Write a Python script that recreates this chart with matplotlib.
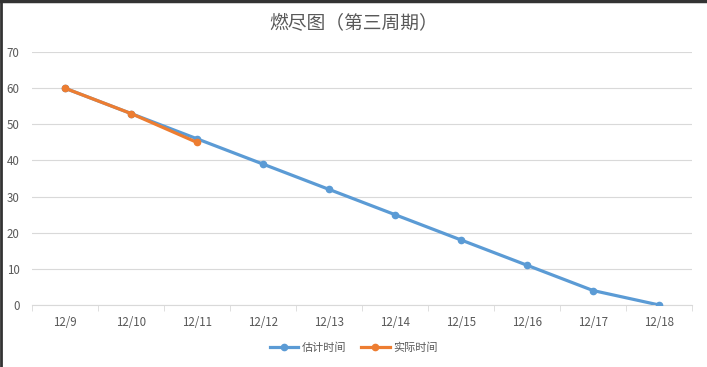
import matplotlib.pyplot as plt
from matplotlib.lines import Line2D

plt.rcParams['font.family'] = ['Noto Sans CJK SC', 'DejaVu Sans']

# data
dates = ['12/9', '12/10', '12/11', '12/12', '12/13', '12/14', '12/15', '12/16', '12/17', '12/18']
estimate = [60, 53, 46, 39, 32, 25, 18, 11, 4, 0]
actual = [60, 53, 45]
yticks = [0, 10, 20, 30, 40, 50, 60, 70]

blue = '#5B9BD5'
orange = '#ED7D31'
gray = '#595959'
grid = '#D9D9D9'

fig = plt.figure(figsize=(7.07, 3.67), dpi=100)
ax = fig.add_axes([0.0453, 0.169, 0.9335, 0.689])

x = list(range(len(dates)))
ax.plot(x, estimate, color=blue, lw=2.3, marker='o', ms=4.5, label='估计时间', zorder=3)
ax.plot(x[:len(actual)], actual, color=orange, lw=2.3, marker='o', ms=4.5, label='实际时间', zorder=4)

ax.set_xlim(-0.5, len(dates) - 0.5)
ax.set_ylim(0, 70)
ax.set_yticks(yticks)
ax.set_xticks(x)
ax.set_xticklabels(dates)
ax.set_xticks([i - 0.5 for i in range(len(dates) + 1)], minor=True)
ax.tick_params(axis='x', which='major', length=0, pad=8, labelsize=8.3, labelcolor=gray)
ax.tick_params(axis='x', which='minor', length=4, color=grid, direction='out')
ax.tick_params(axis='y', length=0, pad=9, labelsize=8.3, labelcolor=gray)
ax.grid(axis='y', color=grid, lw=0.8)
ax.set_axisbelow(True)
for s in ['top', 'right', 'left']:
    ax.spines[s].set_visible(False)
ax.spines['bottom'].set_color(grid)
ax.spines['bottom'].set_linewidth(0.8)

fig.text(0.5, 0.935, '燃尽图（第三周期）', ha='center', va='center', fontsize=13.5, color=gray)

fig.legend(loc='center', bbox_to_anchor=(0.5, 0.052), ncol=2, frameon=False,
           fontsize=8, labelcolor=gray, handlelength=2.6, columnspacing=1.3, handletextpad=0.3)

# screenshot border
fig.add_artist(Line2D([0, 1], [0.997, 0.997], transform=fig.transFigure, color='#333333', lw=2.5))
fig.add_artist(Line2D([0.002, 0.002], [0, 1], transform=fig.transFigure, color='#333333', lw=2))

plt.savefig('out.png', dpi=100)
